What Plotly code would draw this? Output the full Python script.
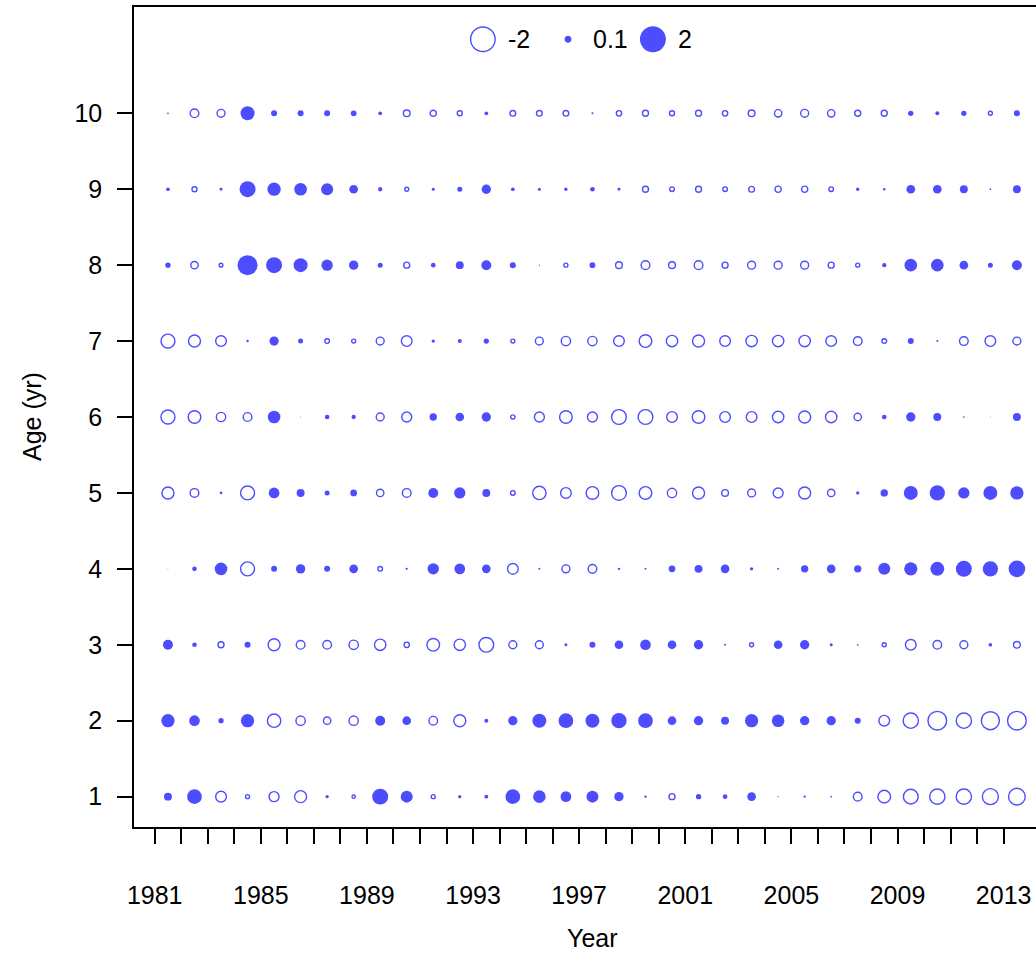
import plotly.graph_objects as go

years = list(range(1981, 2014))
ages = list(range(1, 11))

# Pearson residuals by age, one list per age (1981..2013)
age1 = [0.21, 0.72, -0.38, -0.053, -0.33, -0.48, 0.037, -0.037, 0.85, 0.48, -0.053, 0.037, 0.053, 0.72, 0.53, 0.38,
        0.48, 0.29, 0.02, -0.12, 0.094, 0.072, 0.25, 0.005, 0.018, 0.01, -0.25, -0.53, -0.72, -0.78, -0.78, -0.85, -0.92]
age2 = [0.59, 0.38, 0.094, 0.59, -0.59, -0.29, -0.18, -0.29, 0.33, 0.25, -0.25, -0.48, 0.053, 0.29, 0.65, 0.72,
        0.65, 0.78, 0.72, 0.25, 0.29, 0.21, 0.59, 0.53, 0.29, 0.29, 0.12, -0.38, -0.78, -1.16, -0.78, -1.08, -1.16]
age3 = [0.33, 0.072, -0.12, 0.12, -0.48, -0.25, -0.25, -0.29, -0.43, -0.094, -0.53, -0.43, -0.72, -0.21, -0.21, 0.03,
        0.12, 0.25, 0.38, 0.25, 0.29, 0.013, -0.053, 0.25, 0.29, 0.03, 0.01, -0.053, -0.38, -0.25, -0.21, 0.045, -0.15]
age4 = [0.003, 0.072, 0.53, -0.65, 0.12, 0.29, 0.12, 0.25, -0.072, 0.018, 0.43, 0.38, 0.25, -0.38, 0.013, -0.21,
        -0.25, 0.02, 0.013, 0.15, 0.21, 0.25, 0.037, 0.013, 0.18, 0.25, 0.18, 0.48, 0.59, 0.65, 0.85, 0.78, 0.92]
age5 = [-0.48, -0.25, -0.005, -0.65, 0.38, 0.21, 0.083, 0.15, -0.18, -0.25, 0.33, 0.43, 0.21, -0.072, -0.59, -0.38,
        -0.53, -0.72, -0.53, -0.29, -0.48, -0.15, -0.21, -0.33, -0.48, -0.18, 0.037, 0.18, 0.65, 0.78, 0.43, 0.65, 0.59]
age6 = [-0.65, -0.53, -0.29, -0.25, 0.53, 0.003, 0.072, 0.062, -0.21, -0.33, 0.18, 0.25, 0.29, -0.062, -0.33, -0.53,
        -0.33, -0.72, -0.72, -0.38, -0.53, -0.38, -0.38, -0.43, -0.48, -0.43, -0.18, 0.072, 0.29, 0.21, 0.01, 0.003, 0.21]
age7 = [-0.65, -0.48, -0.38, 0.02, 0.29, 0.083, -0.072, -0.053, -0.21, -0.38, 0.037, 0.053, 0.094, -0.053, -0.21, -0.29,
        -0.29, -0.38, -0.53, -0.43, -0.48, -0.38, -0.43, -0.43, -0.43, -0.38, -0.25, -0.072, 0.12, 0.013, -0.25, -0.38, -0.21]
age8 = [0.094, -0.18, -0.045, 1.33, 0.85, 0.65, 0.43, 0.29, 0.083, -0.12, 0.072, 0.21, 0.33, 0.12, 0.005, -0.053,
        0.11, -0.15, -0.25, -0.15, -0.25, -0.12, -0.21, -0.21, -0.21, -0.12, -0.053, 0.062, 0.53, 0.53, 0.25, 0.083, 0.33]
age9 = [0.045, -0.083, -0.01, 0.85, 0.59, 0.53, 0.48, 0.25, 0.062, -0.053, 0.03, 0.083, 0.29, 0.045, 0.03, 0.037,
        0.072, -0.01, -0.12, -0.072, -0.12, -0.072, -0.11, -0.13, -0.13, -0.072, 0.037, -0.005, 0.25, 0.25, 0.21, 0.01, 0.21]
age10 = [0.01, -0.25, -0.21, 0.65, 0.12, 0.12, 0.12, 0.11, 0.045, -0.15, -0.13, -0.083, 0.045, -0.11, -0.11, -0.11,
         0.013, -0.094, -0.12, -0.083, -0.12, -0.094, -0.15, -0.18, -0.21, -0.18, -0.12, -0.12, 0.094, 0.053, 0.094, -0.053, 0.12]
resid = [age1, age2, age3, age4, age5, age6, age7, age8, age9, age10]

key_vals = [-2, 0.1, 2]
key_text = ['-2', '0.1', '2']

tick_years = list(range(1981, 2014))
tick_labels = [str(y) if (y - 1981) % 4 == 0 else '' for y in tick_years]

blue = 'rgb(77,77,255)'
sref = 2 * 2 / 24.5 ** 2  # a residual of 2 gives a 24.5 px circle
font = 'Liberation Sans, Arial, sans-serif'

pos = {'x': [], 'y': [], 's': []}
neg = {'x': [], 'y': [], 's': []}
for age, row in zip(ages, resid):
    for yr, v in zip(years, row):
        d = pos if v >= 0 else neg
        d['x'].append(yr + 0.5)  # bubbles sit mid-year
        d['y'].append(age)
        d['s'].append(abs(v))

fig = go.Figure()
fig.add_trace(go.Scatter(x=pos['x'], y=pos['y'], mode='markers',
                         marker=dict(size=pos['s'], sizemode='area', sizeref=sref, color=blue, opacity=1,
                                     symbol='circle', line=dict(width=0))))
fig.add_trace(go.Scatter(x=neg['x'], y=neg['y'], mode='markers',
                         marker=dict(size=neg['s'], sizemode='area', sizeref=sref, color=blue, opacity=1,
                                     symbol='circle-open', line=dict(width=1.4, color=blue))))

# size key at the top of the panel
key_x = [1993.37, 1996.58, 1999.78]
fig.add_trace(go.Scatter(x=key_x, y=[10.975] * 3, mode='markers',
                         marker=dict(size=[abs(v) for v in key_vals], sizemode='area', sizeref=sref,
                                     color=blue, opacity=1,
                                     symbol=['circle-open' if v < 0 else 'circle' for v in key_vals],
                                     line=dict(width=1.4, color=blue))))
for kx, t in zip(key_x, key_text):
    fig.add_annotation(x=kx + 0.87, y=10.975, text=t, showarrow=False, xanchor='left', yanchor='middle',
                       font=dict(size=25, color='black', family=font))

fig.add_annotation(x=1997.5, xref='x', y=-0.1357, yref='paper', text='Year', showarrow=False,
                   xanchor='center', yanchor='middle', font=dict(size=25, color='black', family=font))
fig.add_annotation(x=(32 - 134) / 902, xref='paper', y=0.5, yref='paper', text='Age (yr)', showarrow=False,
                   textangle=-90, xanchor='center', yanchor='middle', font=dict(size=25, color='black', family=font))

fig.update_layout(width=1036, height=954, showlegend=False,
                  margin=dict(l=134, r=0, t=7, b=127),
                  plot_bgcolor='white', paper_bgcolor='white',
                  font=dict(family=font, size=25, color='black'))
fig.update_xaxes(range=[1980.22, 2014.22], tickvals=tick_years, ticktext=tick_labels,
                 ticks='outside', ticklen=15, tickwidth=1.5, tickcolor='black',
                 showline=True, linewidth=1.5, linecolor='black', mirror=True,
                 showgrid=False, zeroline=False, ticklabelstandoff=30)
fig.update_yaxes(range=[0.6, 11.4], tickvals=ages, ticktext=[str(a) for a in ages],
                 ticks='outside', ticklen=15, tickwidth=1.5, tickcolor='black',
                 showline=True, linewidth=1.5, linecolor='black',
                 showgrid=False, zeroline=False, ticklabelstandoff=10)

fig.write_html('out.html', config={'displayModeBar': False},
               post_script="document.body.style.margin='0';")
